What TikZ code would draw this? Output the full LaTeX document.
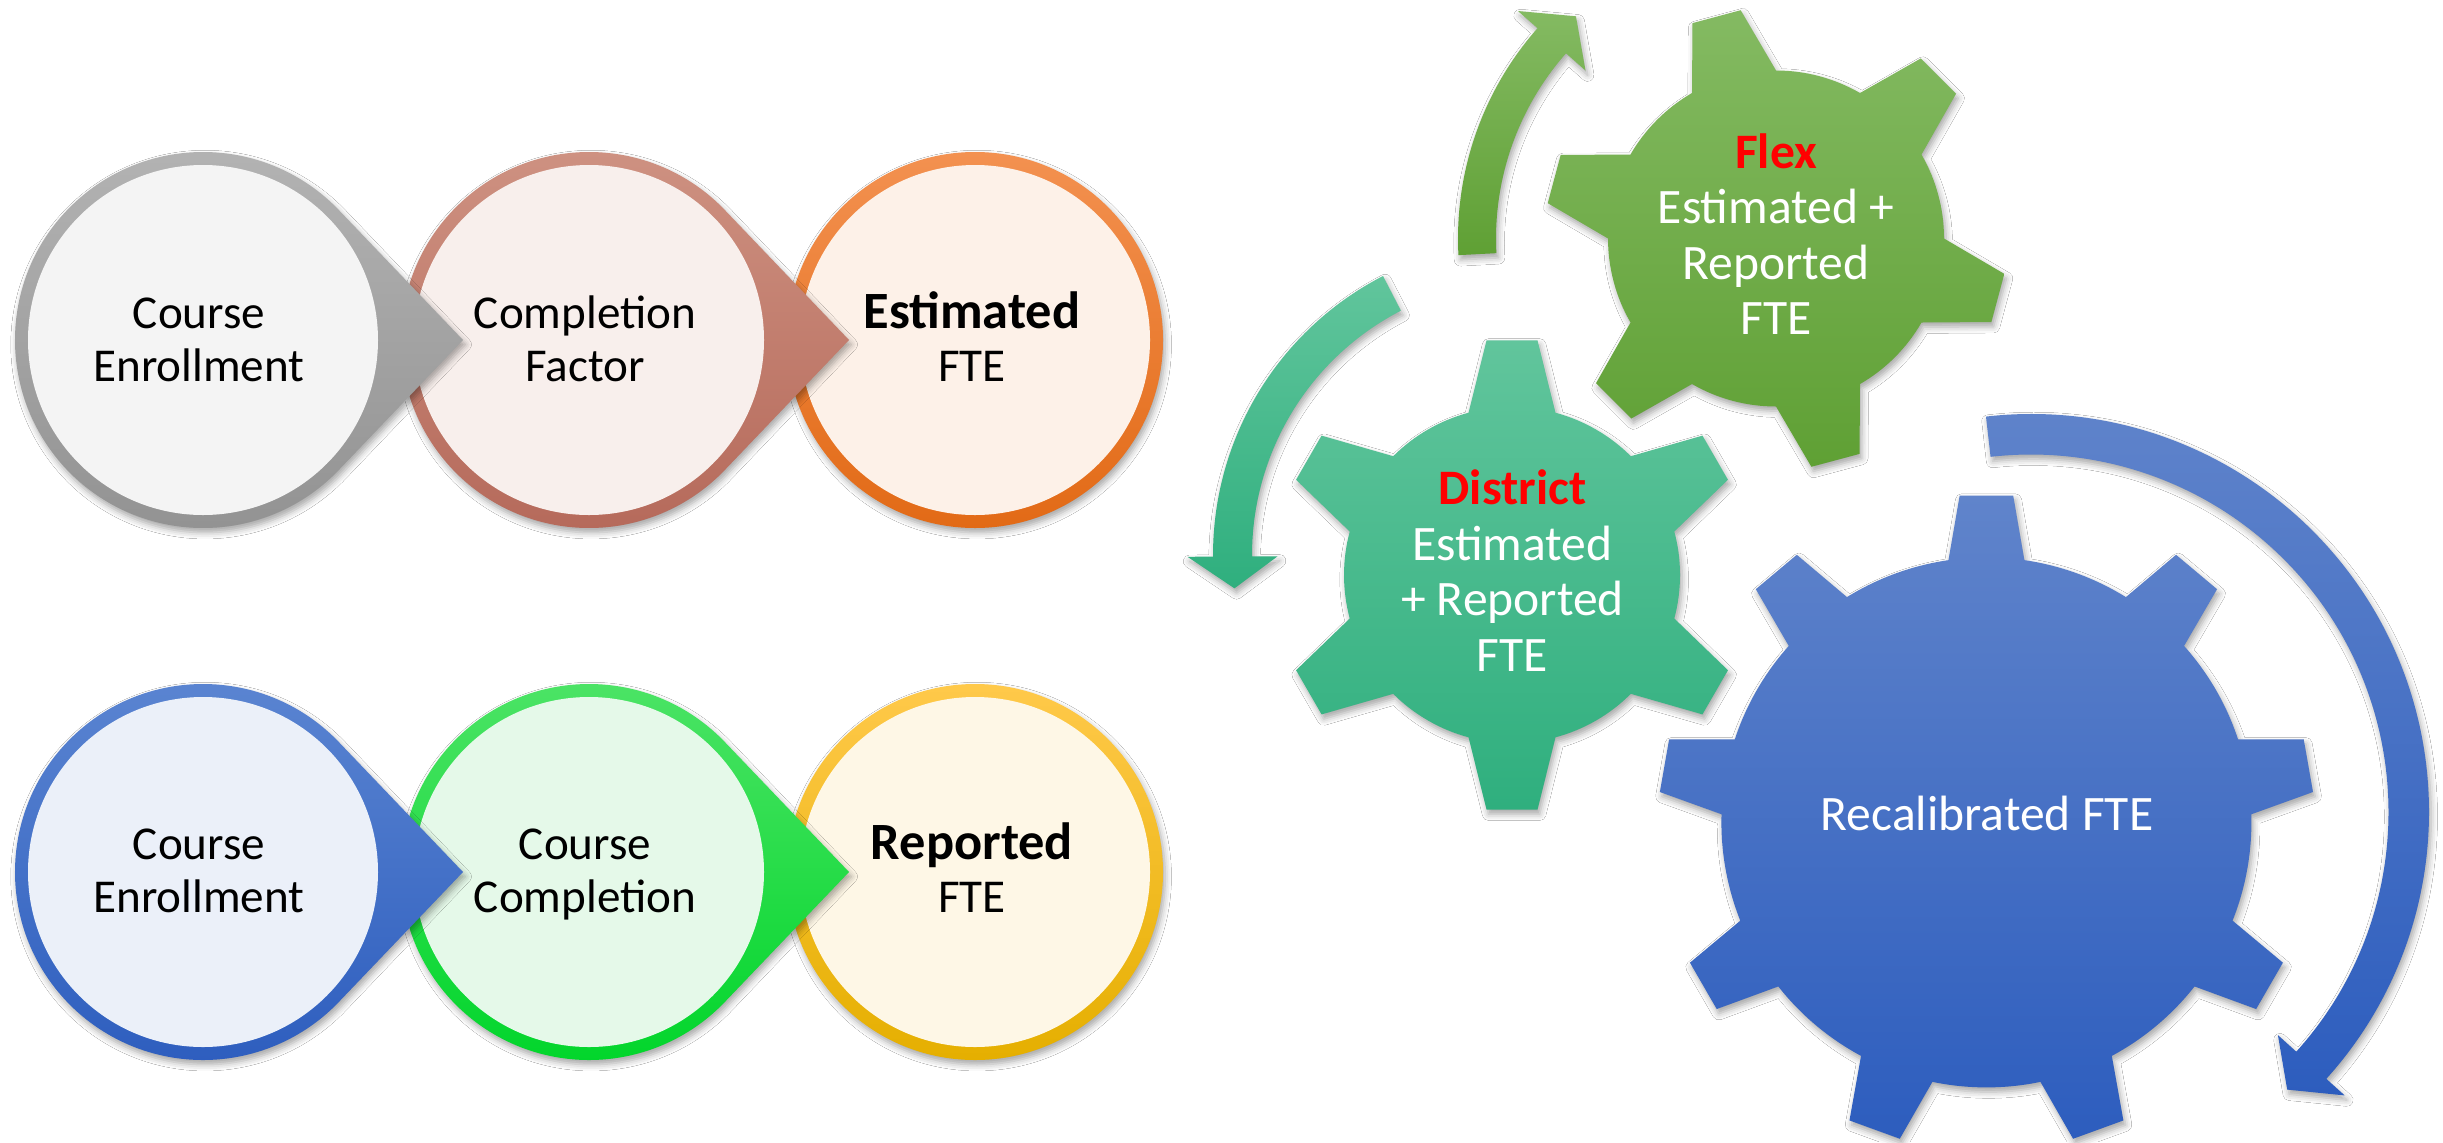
\documentclass[tikz,border=0pt]{standalone}
\usepackage{fontspec}
\setmainfont{Carlito}
\usetikzlibrary{shadows.blur}
% ring colours (top / bottom / inner)
\definecolor{gT}{HTML}{B4B4B4}\definecolor{gB}{HTML}{929292}\definecolor{gI}{HTML}{F4F4F4}
\definecolor{rT}{HTML}{CF9383}\definecolor{rB}{HTML}{B5695A}\definecolor{rI}{HTML}{F8EFEC}
\definecolor{oT}{HTML}{F39150}\definecolor{oB}{HTML}{E26A16}\definecolor{oI}{HTML}{FDF1E8}
\definecolor{bT}{HTML}{5C86D2}\definecolor{bB}{HTML}{2D5DBE}\definecolor{bI}{HTML}{EBF0F9}
\definecolor{vT}{HTML}{4FE468}\definecolor{vB}{HTML}{00D52A}\definecolor{vI}{HTML}{E5F9E9}
\definecolor{yT}{HTML}{FFC94A}\definecolor{yB}{HTML}{E5AF00}\definecolor{yI}{HTML}{FEF7E6}
% gears / arrows
\definecolor{fT}{HTML}{84BA62}\definecolor{fB}{HTML}{5FA034}
\definecolor{dT}{HTML}{61C59C}\definecolor{dB}{HTML}{2FAF7E}
\definecolor{cT}{HTML}{6084CB}\definecolor{cB}{HTML}{2D5DBE}
\newcommand\bigbold[1]{{\fontsize{14.9pt}{15.1pt}\selectfont\bfseries #1}}
\tikzset{
  sh/.style={blur shadow={shadow xshift=0.6pt,shadow yshift=-1.3pt,shadow blur radius=1.8pt,shadow opacity=35}},
  dropshape/.style={insert path={(43.7:188) arc[start angle=43.7,end angle=316.3,radius=188] -- (260,0) -- cycle}},
  ringshape/.style={insert path={(0,0) circle[radius=188]}},
  lbl/.style={font=\fontsize{13.4pt}{15.1pt}\selectfont,align=center,inner sep=0pt,text=black},
  gtxt/.style={font=\fontsize{14.1pt}{15.8pt}\selectfont,align=center,inner sep=0pt,text=white},
  gearshape/.style n args={6}{insert path={({#2-#5}:#3)
     \foreach \k in {1,...,#1}{
       -- ({#2+360/#1*(\k-1)-#5}:#3) -- ({#2+360/#1*(\k-1)-#6}:#4)
       -- ({#2+360/#1*(\k-1)+#6}:#4) -- ({#2+360/#1*(\k-1)+#5}:#3)
       arc[start angle={#2+360/#1*(\k-1)+#5},end angle={#2+360/#1*\k-#5},radius=#3]
     } -- cycle}},
}
\begin{document}
\begin{tikzpicture}[x=0.01cm,y=0.01cm]
\useasboundingbox (0,0) rectangle (2443,-1142);
\fill[white] (0,0) rectangle (2443,-1142);

% ---------- top row (drawn right to left) ----------
\begin{scope}[shift={(975,-340)}]
  \path[sh,top color=oT,bottom color=oB,ringshape];
  \fill[oI] (0,0) circle[radius=175];
  \node[lbl] (est) at (-3,-4.2) {\strut\bigbold{Estimated}\\\strut FTE};
\end{scope}
\begin{scope}[shift={(589,-340)}]
  \path[sh,top color=rT,bottom color=rB,dropshape];
  \fill[rI] (0,0) circle[radius=175];
  \node[lbl] (cf) at (-4,-4.2) {\strut Completion\\\strut Factor};
\end{scope}
\begin{scope}[shift={(203,-340)}]
  \path[sh,top color=gT,bottom color=gB,dropshape];
  \fill[gI] (0,0) circle[radius=175];
  \node[lbl] (ce1) at (-4,-4.2) {\strut Course\\\strut Enrollment};
\end{scope}

% ---------- bottom row ----------
\begin{scope}[shift={(975,-872)}]
  \path[sh,top color=yT,bottom color=yB,ringshape];
  \fill[yI] (0,0) circle[radius=175];
  \node[lbl] (rep) at (-3,-3.7) {\strut\bigbold{Reported}\\\strut FTE};
\end{scope}
\begin{scope}[shift={(589,-872)}]
  \path[sh,top color=vT,bottom color=vB,dropshape];
  \fill[vI] (0,0) circle[radius=175];
  \node[lbl] (cc) at (-4,-3.7) {\strut Course\\\strut Completion};
\end{scope}
\begin{scope}[shift={(203,-872)}]
  \path[sh,top color=bT,bottom color=bB,dropshape];
  \fill[bI] (0,0) circle[radius=175];
  \node[lbl] (ce2) at (-4,-3.7) {\strut Course\\\strut Enrollment};
\end{scope}

% ---------- Flex gear + arrow ----------
\begin{scope}[shift={(1776,-238.5)}]
  \path[sh,top color=fT,bottom color=fB]
    (183:318) arc[start angle=183,end angle=138.6,radius=318]
    -- (138.6:344) -- (132:299) -- (138.6:254) -- (138.6:280)
    arc[start angle=138.6,end angle=183,radius=280] -- cycle;
  \path[sh,top color=fT,bottom color=fB,gearshape={6}{105}{168}{231}{15}{6.2}];
  \node[gtxt] (flex) at (0,-1.8) {\strut\textcolor{red}{\textbf{Flex}}\\\strut Estimated +\\\strut Reported\\\strut FTE};
\end{scope}

% ---------- District gear + arrow ----------
\begin{scope}[shift={(1527,-555)}]
  \path[sh,top color=dT,bottom color=dB]
    (117.3:314) arc[start angle=117.3,end angle=180.3,radius=314]
    -- (180.3:339.5) -- (186.5:294.5) -- (180.3:249.5) -- (180.3:275)
    arc[start angle=180.3,end angle=117.3,radius=275] -- cycle;
\end{scope}
\begin{scope}[shift={(1512,-575)}]
  \path[sh,top color=dT,bottom color=dB,gearshape={6}{90}{168}{236}{15}{6.2}];
  \node[gtxt] (district) at (0.5,-2) {\strut\textcolor{red}{\textbf{District}}\\\strut Estimated\\\strut + Reported\\\strut FTE};
\end{scope}

% ---------- Recalibrated gear + arrow ----------
\begin{scope}[shift={(2031,-812)}]
  \path[sh,top color=cT,bottom color=cB]
    (96.5:398) arc[start angle=96.5,end angle=-42.1,radius=398]
    -- (-42.1:422.75) -- (-47.3:377.75) -- (-42.1:332.75) -- (-42.1:357.5)
    arc[start angle=-42.1,end angle=96.5,radius=357.5] -- cycle;
\end{scope}
\begin{scope}[shift={(1986.4,-822.4)}]
  \path[sh,top color=cT,bottom color=cB,gearshape={9}{90}{265}{328}{8.24}{4.68}];
  \node[gtxt] (recal) at (0.6,2.8) {\strut Recalibrated FTE};
\end{scope}
\end{tikzpicture}
\end{document}
